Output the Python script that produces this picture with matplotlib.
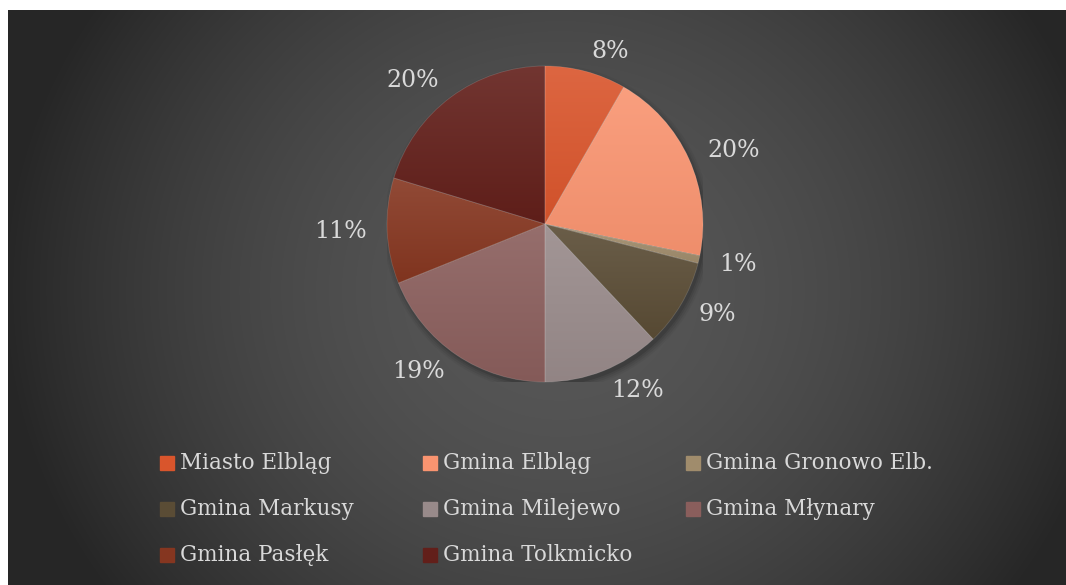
import numpy as np
import matplotlib
matplotlib.use("Agg")
import matplotlib.pyplot as plt
from matplotlib.colors import to_rgb
from matplotlib.patches import Rectangle, Circle

# data (share of total, %)
gminy = ["Miasto Elbląg", "Gmina Elbląg", "Gmina Gronowo Elb.", "Gmina Markusy",
         "Gmina Milejewo", "Gmina Młynary", "Gmina Pasłęk", "Gmina Tolkmicko"]
udzial = [8.3, 19.9, 0.8, 9.0, 12.0, 18.9, 10.8, 20.3]
kolory = ["#D9552C", "#F99470", "#A08C6C", "#5A4C35",
          "#988A8A", "#8A5E5C", "#853620", "#621F1A"]

W, H = 1066, 585
txt_col = "#D9D9D9"
plt.rcParams['font.family'] = ['DejaVu Serif']

fig = plt.figure(figsize=(W / 100, H / 100), dpi=100)
fig.patch.set_facecolor("white")

# dark radial background
bg = fig.add_axes([8 / W, 0, (W - 8) / W, (H - 10) / H])
bg.set_axis_off()
yy, xx = np.mgrid[10:H, 8:W]
r = np.sqrt(((xx - 560) / 560.0) ** 2 + ((yy - 290) / 520.0) ** 2)
f = np.clip(r ** 1.8, 0, 1)[..., None]
c0 = np.array(to_rgb("#575757"))
c1 = np.array(to_rgb("#262626"))
bg.imshow(c0 * (1 - f) + c1 * f, aspect="auto", interpolation="bilinear")

# pie axes, centre at (545, 224) px, radius 158 px
R = 158
ax = fig.add_axes([(545 - R) / W, (H - 224 - R) / H, 2 * R / W, 2 * R / H])
ax.set_axis_off()

# soft shadow
for k, a in enumerate([0.10, 0.08, 0.06, 0.04]):
    ax.add_patch(Circle((0.015, -0.025), 1.0 + 0.012 * k, color="black",
                        alpha=a, lw=0, zorder=0))

pct = ["%.0f%%" % v for v in udzial]
wedges, texts = ax.pie(udzial, colors=kolory, startangle=90, counterclock=False,
                       labels=pct, labeldistance=1.13,
                       textprops=dict(color=txt_col, fontsize=17))
for t in texts:
    t.set_clip_on(False)

# vertical gradient inside each wedge (lighter at its top)
for w, c in zip(wedges, kolory):
    base = np.array(to_rgb(c))
    top = base + (1 - base) * 0.10
    bot = base * 0.96
    ext = w.get_path().get_extents()
    g = np.linspace(0, 1, 64)[:, None, None]
    img = top * (1 - g) + bot * g
    img = np.repeat(img, 2, axis=1)
    im = ax.imshow(img, extent=[ext.x0, ext.x1, ext.y0, ext.y1], aspect="auto",
                   interpolation="bilinear", zorder=2)
    im.set_clip_path(w)
    w.set_edgecolor((1, 1, 1, 0.15))
    w.set_linewidth(0.6)
    w.set_zorder(3)
    w.set_facecolor("none")

ax.set_xlim(-1, 1)
ax.set_ylim(-1, 1)
ax.set_aspect("equal")

# legend, 3 columns at the bottom
for i, (name, c) in enumerate(zip(gminy, kolory)):
    col, row = i % 3, i // 3
    x = 160 + col * 263
    y = 463 + row * 46
    fig.patches.append(Rectangle((x / W, (H - y - 7) / H), 14 / W, 14 / H,
                                 transform=fig.transFigure, color=c))
    fig.text((x + 20) / W, (H - y) / H, name, color=txt_col, fontsize=15.5,
             va="center", ha="left")

fig.savefig("out.png", dpi=100, facecolor=fig.get_facecolor())
